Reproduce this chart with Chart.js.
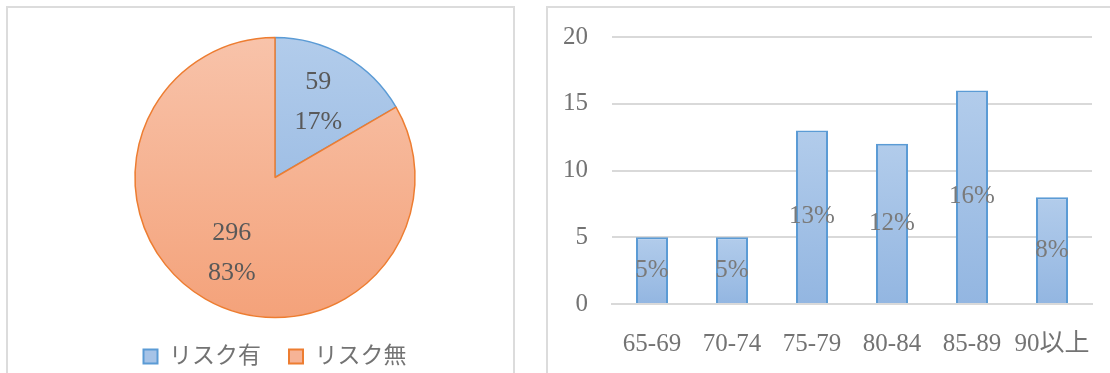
<!DOCTYPE html>
<html lang="ja">
<head>
<meta charset="utf-8">
<script src="https://cdn.jsdelivr.net/npm/chart.js@4.4.1/dist/chart.umd.min.js"></script>
<style>
  body { margin: 0; background: #fff; width: 1110px; height: 373px; overflow: hidden; position: relative; }
  .frame { position: absolute; border: 2px solid #dcdcdc; box-sizing: border-box; }
  .wrap { position: absolute; }
</style>
</head>
<body>
<div class="frame" style="left:6px; top:6px; width:509px; height:380px;"></div>
<div class="frame" style="left:546px; top:6px; width:580px; height:380px;"></div>
<div class="wrap" style="left:8px; top:8px; width:505px; height:370px;"><canvas id="pie"></canvas></div>
<div class="wrap" style="left:548px; top:8px; width:562px; height:365px;"><canvas id="bar"></canvas></div>
<script>
const riskLabels = ["リスク有", "リスク無"];
const riskCounts = [59, 296];

const ageGroups = ["65-69", "70-74", "75-79", "80-84", "85-89", "90以上"];
const ageCounts = [5, 5, 13, 12, 16, 8];
const agePercents = ["5%", "5%", "13%", "12%", "16%", "8%"];

const FONT = "'Liberation Serif', 'Noto Sans CJK JP', serif";
const PIE_R = 140;

Chart.defaults.font.family = FONT;
Chart.defaults.color = "#737373";

function pieFill(c, top, bottom) {
  const area = c.chart.chartArea;
  if (!area) return top;
  const cy = (area.top + area.bottom) / 2;
  const g = c.chart.ctx.createLinearGradient(0, cy - PIE_R, 0, cy + PIE_R);
  g.addColorStop(0, top);
  g.addColorStop(1, bottom);
  return g;
}

// value + percent labels inside each slice
const pieLabels = {
  id: "pieLabels",
  afterDatasetsDraw(chart) {
    const ctx = chart.ctx;
    const data = chart.data.datasets[0].data;
    const total = data.reduce((a, b) => a + b, 0);
    ctx.save();
    ctx.font = "26px " + FONT;
    ctx.fillStyle = "#595959";
    ctx.textAlign = "center";
    ctx.textBaseline = "middle";
    chart.getDatasetMeta(0).data.forEach((arc, i) => {
      const mid = (arc.startAngle + arc.endAngle) / 2;
      const d = arc.outerRadius * 0.62;
      const x = arc.x + Math.cos(mid) * d;
      const y = arc.y + Math.sin(mid) * d;
      ctx.fillText(String(data[i]), x, y - 20);
      ctx.fillText(Math.round(data[i] / total * 100) + "%", x, y + 20);
    });
    ctx.restore();
  }
};

new Chart(document.getElementById("pie"), {
  type: "pie",
  data: {
    labels: riskLabels,
    datasets: [{
      data: riskCounts,
      backgroundColor: c => c.dataIndex === 0
        ? pieFill(c, "#b2cceb", "#8db2df")
        : pieFill(c, "#f8c3aa", "#f4a27a"),
      borderColor: ["#5b9bd5", "#ed7d31"],
      borderWidth: 1.5
    }]
  },
  options: {
    responsive: true,
    maintainAspectRatio: false,
    animation: false,
    radius: PIE_R,
    layout: { padding: { top: 30, left: 29, right: 0, bottom: 0 } },
    plugins: {
      tooltip: { enabled: false },
      legend: {
        position: "bottom",
        labels: {
          font: { size: 23, family: FONT },
          color: "#737373",
          boxWidth: 14,
          boxHeight: 14,
          padding: 28,
          generateLabels: () => [
            { text: riskLabels[0], fillStyle: "#a6c3e7", strokeStyle: "#5b9bd5", lineWidth: 2, fontColor: "#737373" },
            { text: riskLabels[1], fillStyle: "#f6b396", strokeStyle: "#ed7d31", lineWidth: 2, fontColor: "#737373" }
          ]
        }
      }
    }
  },
  plugins: [pieLabels]
});

// percent labels centred in each bar
const barLabels = {
  id: "barLabels",
  afterDatasetsDraw(chart) {
    const ctx = chart.ctx;
    ctx.save();
    ctx.font = "25px " + FONT;
    ctx.fillStyle = "#7a7a7a";
    ctx.textAlign = "center";
    ctx.textBaseline = "middle";
    chart.getDatasetMeta(0).data.forEach((bar, i) => {
      ctx.fillText(agePercents[i], bar.x, (bar.y + bar.base) / 2);
    });
    ctx.restore();
  }
};

function barFill(c) {
  const y = c.chart.scales.y;
  if (!y || !c.chart.chartArea || typeof c.raw !== "number") return "#a3c1e6";
  const top = y.getPixelForValue(c.raw);
  const base = y.getPixelForValue(0);
  if (!isFinite(top) || !isFinite(base) || top === base) return "#a3c1e6";
  const g = c.chart.ctx.createLinearGradient(0, top, 0, base);
  g.addColorStop(0, "#b2cceb");
  g.addColorStop(1, "#93b6e1");
  return g;
}

new Chart(document.getElementById("bar"), {
  type: "bar",
  data: {
    labels: ageGroups,
    datasets: [{
      data: ageCounts,
      backgroundColor: barFill,
      borderColor: "#5b9bd5",
      borderWidth: 2,
      barPercentage: 0.4,
      categoryPercentage: 1
    }]
  },
  options: {
    responsive: true,
    maintainAspectRatio: false,
    animation: false,
    layout: { padding: { top: 29, left: 0, right: 18, bottom: 0 } },
    plugins: { legend: { display: false }, tooltip: { enabled: false } },
    scales: {
      x: {
        grid: { display: false },
        border: { color: "#d9d9d9", width: 2 },
        ticks: { font: { size: 25 }, color: "#737373", padding: 17, maxRotation: 0 },
        afterFit: s => { s.height = 69; s.paddingLeft = 0; s.paddingRight = 0; }
      },
      y: {
        min: 0,
        max: 20,
        ticks: { stepSize: 5, font: { size: 25 }, color: "#737373", padding: 24 },
        grid: { color: "#d9d9d9", lineWidth: 2, drawTicks: false },
        border: { display: false },
        afterFit: s => { s.width = 64; s.paddingTop = 0; s.paddingBottom = 0; }
      }
    }
  },
  plugins: [barLabels]
});
</script>
</body>
</html>
